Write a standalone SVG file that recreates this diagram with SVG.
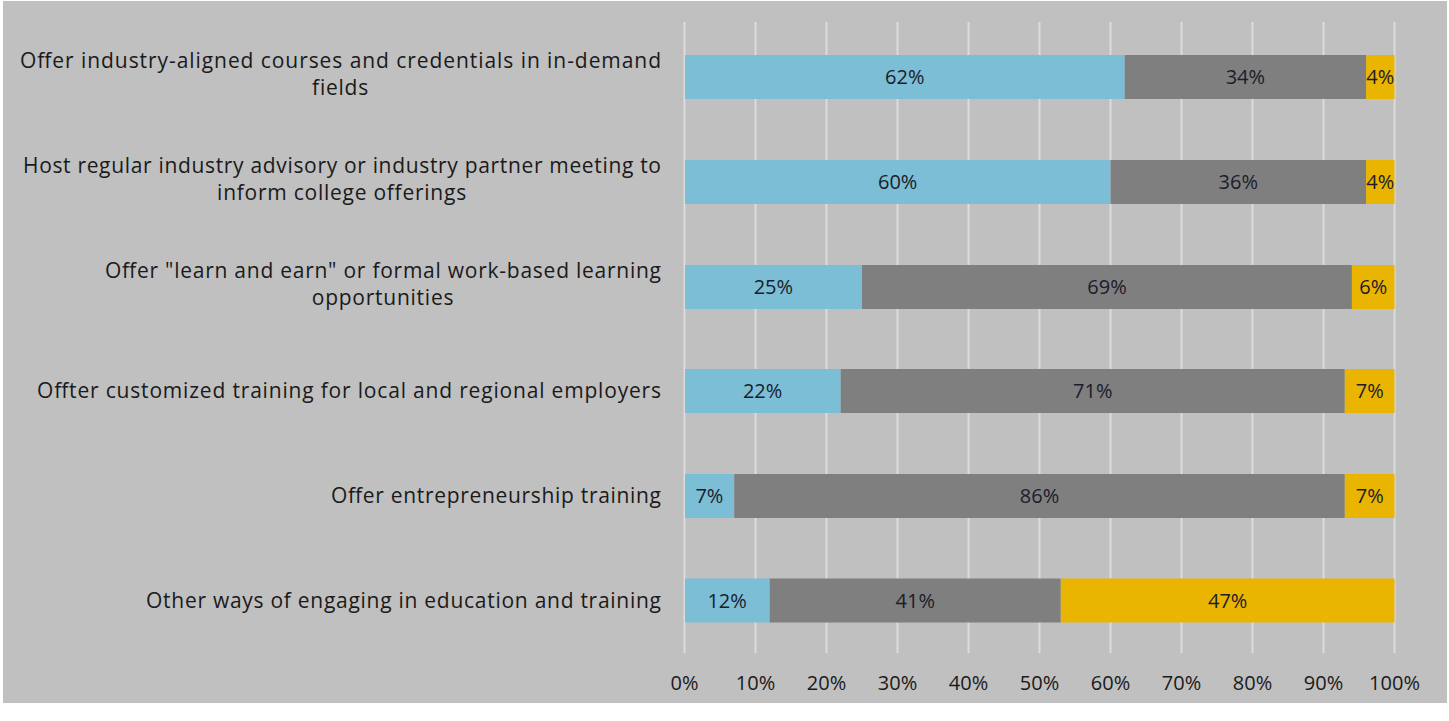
<svg xmlns="http://www.w3.org/2000/svg" width="1449" height="721" viewBox="0 0 1449 721">
<style>
.cat{font-family:"Open Sans","Liberation Sans",sans-serif;font-size:21px;fill:#1a1a1a;text-anchor:end}
.cat2{font-family:"Open Sans","Liberation Sans",sans-serif;font-size:21px;fill:#1a1a1a;text-anchor:middle;letter-spacing:0.75px}
.val{font-family:"Open Sans","Liberation Sans",sans-serif;font-size:20px;fill:#1c1c2a;text-anchor:middle}
.ax{font-family:"Open Sans","Liberation Sans",sans-serif;font-size:20px;fill:#1a1a1a;text-anchor:middle}
.b{fill:#7BBED6}.g{fill:#7F7F7F}.y{fill:#E9B500}
.grid line{stroke:#DCDCDC;stroke-width:2}
</style>
<rect x="0" y="0" width="1449" height="721" fill="#FFFFFF"/>
<rect x="3" y="1" width="1444" height="702" fill="#C0C0C0"/>
<g class="grid">
<line x1="684.5" y1="22" x2="684.5" y2="653"/>
<line x1="755.5" y1="22" x2="755.5" y2="653"/>
<line x1="826.5" y1="22" x2="826.5" y2="653"/>
<line x1="897.5" y1="22" x2="897.5" y2="653"/>
<line x1="968.5" y1="22" x2="968.5" y2="653"/>
<line x1="1039.5" y1="22" x2="1039.5" y2="653"/>
<line x1="1110.5" y1="22" x2="1110.5" y2="653"/>
<line x1="1181.5" y1="22" x2="1181.5" y2="653"/>
<line x1="1252.5" y1="22" x2="1252.5" y2="653"/>
<line x1="1323.5" y1="22" x2="1323.5" y2="653"/>
<line x1="1394.5" y1="22" x2="1394.5" y2="653"/>
</g>
<g id="row1">
<rect class="b" x="685" y="55" width="439.7" height="44"/>
<rect class="g" x="1124.7" y="55" width="241.4" height="44"/>
<rect class="y" x="1366.1" y="55" width="28.4" height="44"/>
<text class="val" x="904.8" y="84">62%</text>
<text class="val" x="1245.4" y="84">34%</text>
<text class="val" x="1380.3" y="84">4%</text>
<text class="cat" x="661" y="68" textLength="641">Offer industry-aligned courses and credentials in in-demand</text>
<text class="cat2" x="340.5" y="95">fields</text>
</g>
<g id="row2">
<rect class="b" x="685" y="160" width="425.5" height="44"/>
<rect class="g" x="1110.5" y="160" width="255.6" height="44"/>
<rect class="y" x="1366.1" y="160" width="28.4" height="44"/>
<text class="val" x="897.7" y="189">60%</text>
<text class="val" x="1238.3" y="189">36%</text>
<text class="val" x="1380.3" y="189">4%</text>
<text class="cat" x="661" y="173" textLength="638">Host regular industry advisory or industry partner meeting to</text>
<text class="cat2" x="342" y="200">inform college offerings</text>
</g>
<g id="row3">
<rect class="b" x="685" y="265" width="177" height="44"/>
<rect class="g" x="862" y="265" width="489.9" height="44"/>
<rect class="y" x="1351.9" y="265" width="42.6" height="44"/>
<text class="val" x="773.4" y="294">25%</text>
<text class="val" x="1107" y="294">69%</text>
<text class="val" x="1373.2" y="294">6%</text>
<text class="cat" x="661" y="278" textLength="556">Offer "learn and earn" or formal work-based learning</text>
<text class="cat2" x="383" y="305">opportunities</text>
</g>
<g id="row4">
<rect class="b" x="685" y="369" width="155.7" height="44"/>
<rect class="g" x="840.7" y="369" width="504.1" height="44"/>
<rect class="y" x="1344.8" y="369" width="49.7" height="44"/>
<text class="val" x="762.6" y="398">22%</text>
<text class="val" x="1092.8" y="398">71%</text>
<text class="val" x="1369.7" y="398">7%</text>
<text class="cat" x="661" y="398" textLength="624">Offter customized training for local and regional employers</text>
</g>
<g id="row5">
<rect class="b" x="685" y="474" width="49.2" height="44"/>
<rect class="g" x="734.2" y="474" width="610.6" height="44"/>
<rect class="y" x="1344.8" y="474" width="49.7" height="44"/>
<text class="val" x="709.4" y="503">7%</text>
<text class="val" x="1039.5" y="503">86%</text>
<text class="val" x="1369.7" y="503">7%</text>
<text class="cat" x="661" y="503" textLength="330">Offer entrepreneurship training</text>
</g>
<g id="row6">
<rect class="b" x="685" y="578.5" width="84.7" height="44"/>
<rect class="g" x="769.7" y="578.5" width="291.1" height="44"/>
<rect class="y" x="1060.8" y="578.5" width="333.7" height="44"/>
<text class="val" x="727.1" y="607.5">12%</text>
<text class="val" x="915.3" y="607.5">41%</text>
<text class="val" x="1227.7" y="607.5">47%</text>
<text class="cat" x="661" y="608" textLength="515">Other ways of engaging in education and training</text>
</g>
<g id="axis">
<text class="ax" x="684.5" y="690">0%</text>
<text class="ax" x="755.5" y="690">10%</text>
<text class="ax" x="826.5" y="690">20%</text>
<text class="ax" x="897.5" y="690">30%</text>
<text class="ax" x="968.5" y="690">40%</text>
<text class="ax" x="1039.5" y="690">50%</text>
<text class="ax" x="1110.5" y="690">60%</text>
<text class="ax" x="1181.5" y="690">70%</text>
<text class="ax" x="1252.5" y="690">80%</text>
<text class="ax" x="1323.5" y="690">90%</text>
<text class="ax" x="1394.5" y="690">100%</text>
</g>
</svg>
